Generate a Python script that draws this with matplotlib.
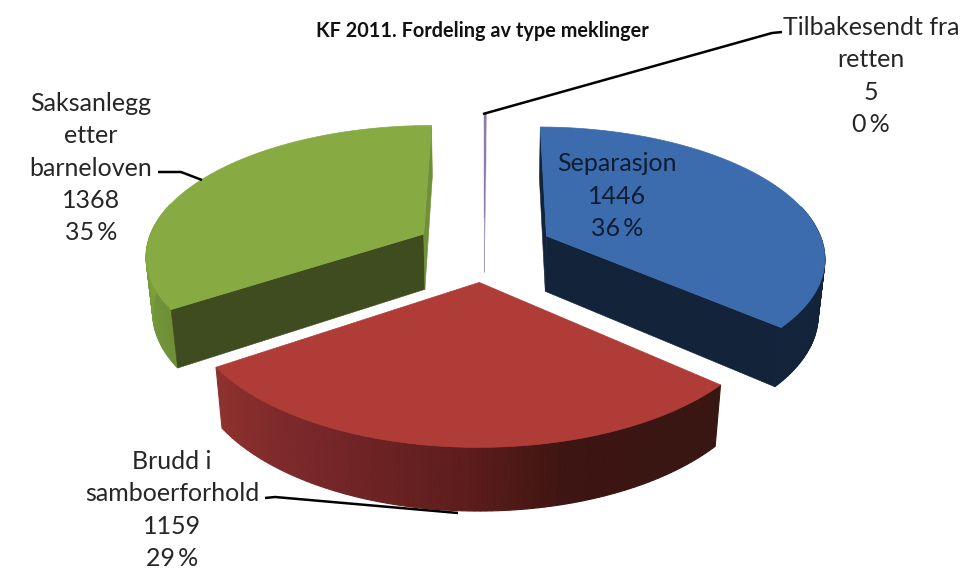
import numpy as np
import matplotlib
matplotlib.use("Agg")
import matplotlib.pyplot as plt
from matplotlib.colors import to_rgb
from matplotlib.patches import Polygon

title = "KF 2011. Fordeling av type meklinger"
names = ["Tilbakesendt fra\nretten", "Separasjon", "Brudd i\nsamboerforhold", "Saksanlegg\netter\nbarneloven"]
values = [5, 1446, 1159, 1368]
percents = [0, 36, 29, 35]

top_colors = ["#8a75b0", "#3c6cae", "#b03c38", "#87aa42"]
start_wall_colors = ["#a99cc6", "#12233a", "#3a1512", "#3e4c1f"]
end_wall_colors = ["#a99cc6", "#12233a", "#3a1512", "#708f38"]
# outer wall shading: (angle in degrees, colour)
shade = [
    [(0, "#a99cc6"), (2, "#a99cc6")],
    [(0, "#12233a"), (140, "#12233a")],
    [(131, "#381612"), (165, "#3d1512"), (183, "#5e1d1c"), (210, "#78272a"), (237, "#8f322e")],
    [(236, "#6d8e36"), (262, "#7a9c3c"), (300, "#87aa42"), (360, "#87aa42")],
]

CX, CY, R, B, K, H, M, EXPL = 484, 249, 278, 129, 0.15, 57, 0.02, 0.25

def project(X, Y, down=False):
    w = 1 + K * Y
    if down:
        w = w + M
        return CX + R * X / w, CY + (-B * Y + H) / w
    return CX + R * X / w, CY - B * Y / w

def shade_at(table, a):
    angs = [t[0] for t in table]
    cols = np.array([to_rgb(t[1]) for t in table])
    return tuple(np.interp(a, angs, cols[:, i]) for i in range(3))

fig = plt.figure(figsize=(9.63, 5.69), dpi=100)
ax = fig.add_axes([0, 0, 1, 1])
ax.set_xlim(0, 963)
ax.set_ylim(569, 0)
ax.axis("off")

total = sum(values)
edges = np.concatenate([[0], np.cumsum(values)]) / total * 360

for i in range(len(values)):
    a0, a1 = edges[i], edges[i + 1]
    mid = np.radians((a0 + a1) / 2)
    ex, ey = EXPL * np.sin(mid), EXPL * np.cos(mid)
    th = np.radians(np.linspace(a0, a1, max(int(a1 - a0), 2) + 1))
    X = ex + np.sin(th)
    Y = ey + np.cos(th)
    tx, ty = project(X, Y)
    bx, by = project(X, Y, True)
    ax_t, ay_t = project(ex, ey)
    ax_b, ay_b = project(ex, ey, True)
    # outer wall facets (only the ones turned towards the viewer)
    deg = np.degrees(th)
    for j in range(len(th) - 1):
        m = (deg[j] + deg[j + 1]) / 2
        if np.cos(np.radians(m)) > 0.25:
            continue
        c = shade_at(shade[i], m)
        ax.add_patch(Polygon([(tx[j], ty[j]), (tx[j + 1], ty[j + 1]), (bx[j + 1], by[j + 1]), (bx[j], by[j])],
                             fc=c, ec=c, lw=0.8, zorder=2))
    # radial walls
    if np.sin(np.radians(a0)) < 0.05:
        ax.add_patch(Polygon([(ax_t, ay_t), (tx[0], ty[0]), (bx[0], by[0]), (ax_b, ay_b)],
                             fc=start_wall_colors[i], ec=start_wall_colors[i], lw=0.4, zorder=3))
    if np.sin(np.radians(a1)) > -0.05:
        ax.add_patch(Polygon([(ax_t, ay_t), (tx[-1], ty[-1]), (bx[-1], by[-1]), (ax_b, ay_b)],
                             fc=end_wall_colors[i], ec=end_wall_colors[i], lw=0.4, zorder=3))
    # top
    ax.add_patch(Polygon(np.vstack([[ax_t, ay_t], np.column_stack([tx, ty])]),
                         fc=top_colors[i], ec=top_colors[i], lw=0.5, zorder=4))

plt.rcParams["font.family"] = ["Lato", "DejaVu Sans"]
TXT = "#262626"
ax.text(482, 31, title, ha="center", va="center", fontsize=14.3, fontweight="bold", color="#111111", zorder=6)

label_pos = [(871, 76), (617, 196), (172, 510), (91, 168)]
for n, v, p, (lx, ly) in zip(names, values, percents, label_pos):
    ax.text(lx, ly, f"{n}\n{v}\n{p}\u2009%", ha="center", va="center", fontsize=18,
            color=TXT if n != "Separasjon" else "#0f1d33", linespacing=1.49, zorder=6)

leaders = [
    [(483, 114), (772, 33), (782, 32)],
    [(158, 172), (181, 172), (202, 180)],
    [(265, 498), (275, 497), (458, 513)],
]
for line in leaders:
    xs, ys = zip(*line)
    ax.plot(xs, ys, color="black", lw=1.8, zorder=5, solid_capstyle="butt")

fig.savefig("out.png", dpi=100)
